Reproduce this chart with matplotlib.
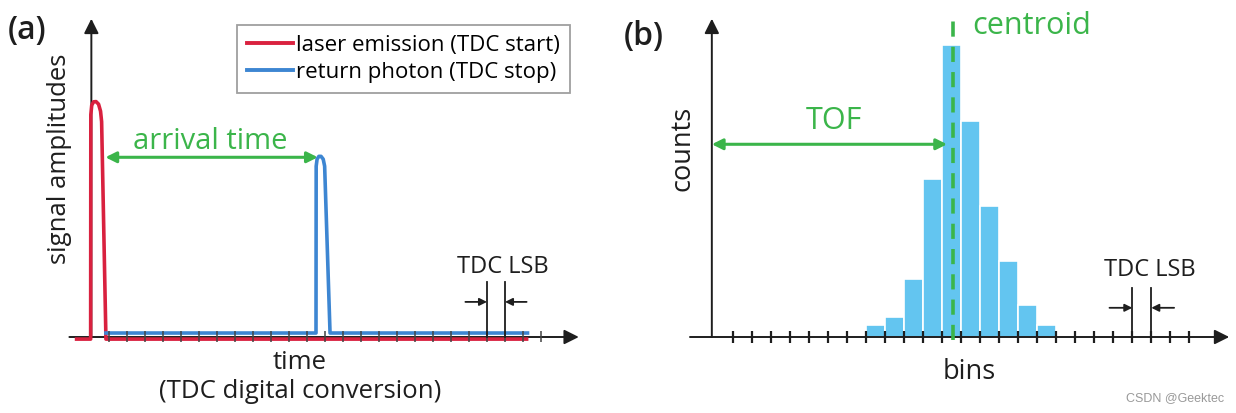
import numpy as np
import matplotlib
matplotlib.use('Agg')
import matplotlib.pyplot as plt
from matplotlib.lines import Line2D

plt.rcParams['font.family'] = ['Open Sans', 'DejaVu Sans']

# Colours
red = '#d9213f'
blue = '#3d86d2'
green = '#3bb54a'
barblue = '#63c5f0'
dark = '#1e1e1e'

# ---- panel (a): signals against TDC time steps (one unit = one TDC LSB) ----
tdc_ticks = np.arange(0, 25)
laser_t = [-1.8, -1.02, -1.01, -0.96, -0.86, -0.72, -0.58, -0.47, -0.41, -0.17, 23.2]
laser_a = [-0.009, -0.009, 0.95, 0.99, 1.005, 1.006, 0.995, 0.965, 0.92, -0.009, -0.009]
photon_t = [-0.17, 11.5, 11.51, 11.56, 11.66, 11.78, 11.9, 11.98, 12.28, 23.25]
photon_a = [0.017, 0.017, 0.73, 0.76, 0.772, 0.772, 0.76, 0.73, 0.017, 0.017]
arrival_start, arrival_stop, arrival_level = -0.2, 11.6, 0.768
lsb_a = [21, 22]

# ---- panel (b): histogram of arrival times ----
bin_ticks = np.arange(0, 25)
bin_left = np.arange(7, 17)
counts = [4, 7, 20, 54, 100, 74, 45, 26, 11, 4]
centroid = 11.55
tof_level = 66
lsb_b = [21, 22]

fig = plt.figure(figsize=(12.36, 4.13), dpi=100)

# axes laid over each half of the figure
axa = fig.add_axes([0, 0, 600 / 1236, 1])
axa.set_xlim(-109 / 18, (600 - 109) / 18)
axa.set_ylim(-76 / 234, 337 / 234)
axa.axis('off')

axb = fig.add_axes([600 / 1236, 0, 636 / 1236, 1])
axb.set_xlim((600 - 733.3) / 19, (1236 - 733.3) / 19)
axb.set_ylim(-76 / 2.92, 337 / 2.92)
axb.axis('off')


def axis_arrow(ax, start, end, lw=1.4):
    ax.annotate('', xy=end, xytext=start,
                arrowprops=dict(arrowstyle='-|>', color=dark, lw=lw,
                                mutation_scale=22, shrinkA=0, shrinkB=0))


def lsb_marks(ax, xs, top, arrow_y, text_x, text_y, fs):
    for x in xs:
        ax.plot([x, x], [0, top], color=dark, lw=1.3, zorder=6)
    ax.annotate('', xy=(xs[0], arrow_y), xytext=(xs[0] - 1.2, arrow_y),
                arrowprops=dict(arrowstyle='-|>', color=dark, lw=1.3,
                                mutation_scale=11, shrinkA=0, shrinkB=0))
    ax.annotate('', xy=(xs[1], arrow_y), xytext=(xs[1] + 1.2, arrow_y),
                arrowprops=dict(arrowstyle='-|>', color=dark, lw=1.3,
                                mutation_scale=11, shrinkA=0, shrinkB=0))
    ax.text(text_x, text_y, 'TDC LSB', ha='center', va='center',
            fontsize=fs, color=dark)


# panel (a)
axis_arrow(axa, (-2.2, 0), (26.1, 0))
axis_arrow(axa, (-0.98, 0), (-0.98, 1.36))
axa.plot(laser_t, laser_a, color=red, lw=2.6, solid_joinstyle='round', zorder=3)
axa.plot(photon_t, photon_a, color=blue, lw=2.6, solid_joinstyle='round', zorder=4)
axa.vlines(tdc_ticks, -0.02, 0.025, color='#444444', lw=1.1, zorder=5)
axa.annotate('', xy=(arrival_stop, arrival_level), xytext=(arrival_start, arrival_level),
             arrowprops=dict(arrowstyle='<|-|>', color=green, lw=2.2,
                             mutation_scale=16, shrinkA=0, shrinkB=0))
axa.text(5.6, 0.835, 'arrival time', ha='center', va='center',
         fontsize=21, color=green)
lsb_marks(axa, lsb_a, 0.235, 0.15, 21.9, 0.30, 17)
axa.text(-2.75, 0.76, 'signal amplitudes', rotation=90, ha='center', va='center',
         fontsize=18.5, color=dark)
axa.text(10.6, -0.107, 'time', ha='center', va='center', fontsize=18.5, color=dark)
axa.text(10.6, -0.235, '(TDC digital conversion)', ha='center', va='center',
         fontsize=18.5, color=dark)
axa.text(-4.57, 1.308, '(a)', ha='center', va='center', fontsize=23,
         fontweight='semibold', color=dark)

handles = [Line2D([], [], color=red, lw=2.8), Line2D([], [], color=blue, lw=2.8)]
leg = axa.legend(handles, ['laser emission (TDC start)', 'return photon (TDC stop)'],
                 loc='upper right', bbox_to_anchor=(570 / 600, 1 - 25 / 413),
                 fontsize=16, frameon=True, fancybox=False, edgecolor='#888888',
                 handlelength=2.1, handletextpad=0.12, borderpad=0.45,
                 labelspacing=0.25, borderaxespad=0)
leg.get_frame().set_linewidth(1.3)

# panel (b)
axb.bar(bin_left, counts, width=1.0, align='edge', color=barblue,
        edgecolor='white', linewidth=1.2, zorder=2)
axis_arrow(axb, (-2.28, 0), (26.1, 0))
axis_arrow(axb, (-1.13, 0), (-1.13, 109))
axb.vlines(bin_ticks, -2.2, 2.2, color=dark, lw=1.6, zorder=3)
axb.plot([centroid, centroid], [-1, 111], color=green, lw=2.6,
         dashes=(4.2, 2.8), zorder=4)
axb.text(12.6, 106.5, 'centroid', ha='left', va='center', fontsize=22, color=green)
axb.annotate('', xy=(centroid - 0.3, tof_level), xytext=(-1.13, tof_level),
             arrowprops=dict(arrowstyle='<|-|>', color=green, lw=2.2,
                             mutation_scale=16, shrinkA=0, shrinkB=0))
axb.text(5.29, 74, 'TOF', ha='center', va='center', fontsize=22, color=green)
lsb_marks(axb, lsb_b, 16.8, 10, 21.9, 23, 17)
axb.text(-2.68, 64.7, 'counts', rotation=90, ha='center', va='center',
         fontsize=19.5, color=dark)
axb.text(12.4, -12, 'bins', ha='center', va='center', fontsize=19.5, color=dark)
axb.text(-4.7, 103, '(b)', ha='center', va='center', fontsize=23,
         fontweight='semibold', color=dark)

fig.text(1224 / 1236, 1 - 398 / 413, 'CSDN @Geektec', ha='right', va='center',
         fontsize=9, color='#999999', family=['Liberation Sans', 'DejaVu Sans'])

fig.savefig('out.png', dpi=100)
